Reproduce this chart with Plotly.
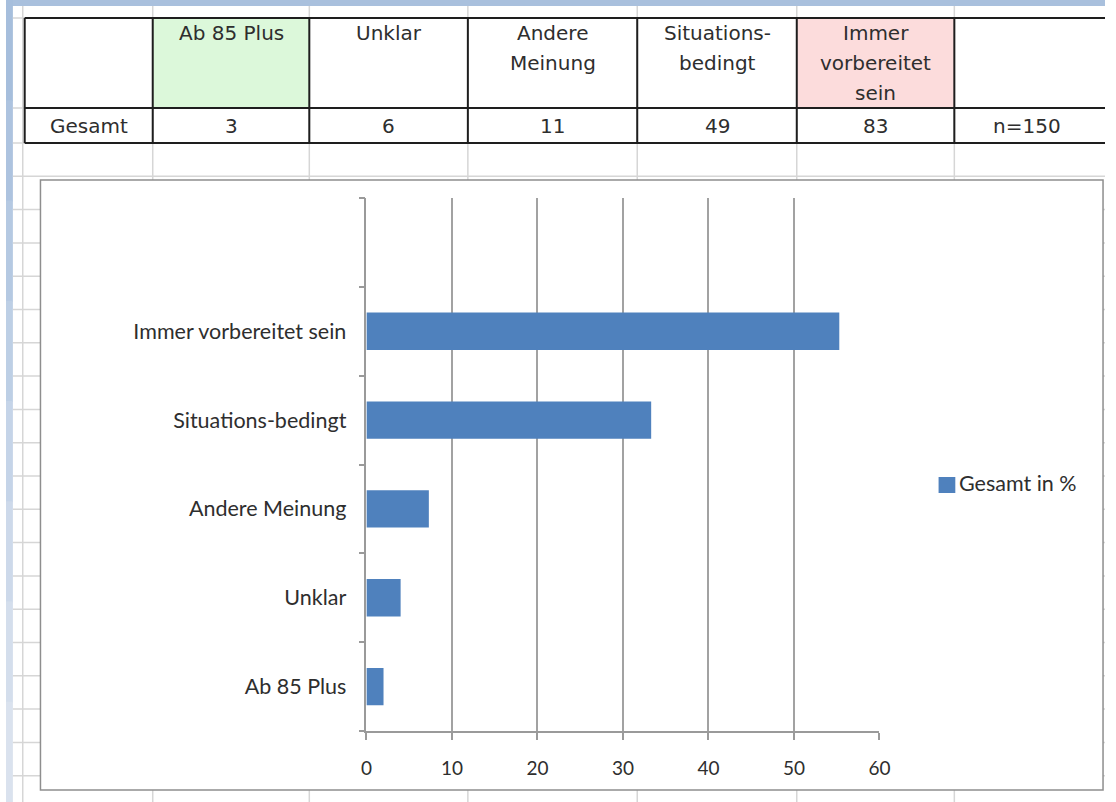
import plotly.graph_objects as go

W, H = 1116, 802

# ---- data ----
categories = ["Ab 85 Plus", "Unklar", "Andere Meinung", "Situations-bedingt", "Immer vorbereitet sein"]
header_labels = ["Ab 85 Plus", "Unklar", "Andere<br>Meinung", "Situations-<br>bedingt", "Immer<br>vorbereitet<br>sein"]
row_label = "Gesamt"
counts = [3, 6, 11, 49, 83]
total_label = "n=150"
percent = [2.0, 4.0, 7.3, 33.3, 55.3]
series_name = "Gesamt in %"
x_ticks = [0, 10, 20, 30, 40, 50, 60]

# ---- layout constants (pixels) ----
col_edges = [19, 149, 308, 469, 641, 803, 963, 1116]
tbl_top, tbl_mid, tbl_bot = 18, 108, 143
frame = (35, 180, 1114, 790)
plot_x = (366, 887)
plot_y = (198, 731)

TXT = "#2e2e2e"
BAR = "#4f81bd"
GRID_SHEET = "#d6d6d6"


def X(px):
    return px / W


def Y(py):
    return 1 - py / H


shapes = []
annotations = []


def rect(x0, y0, x1, y1, fill=None, line=None, lw=0):
    shapes.append(dict(type="rect", xref="paper", yref="paper",
                       x0=X(x0), y0=Y(y1), x1=X(x1), y1=Y(y0),
                       fillcolor=fill or "rgba(0,0,0,0)",
                       line=dict(color=line or "rgba(0,0,0,0)", width=lw),
                       layer="below"))


def line(x0, y0, x1, y1, color, width):
    shapes.append(dict(type="line", xref="paper", yref="paper",
                       x0=X(x0), y0=Y(y0), x1=X(x1), y1=Y(y1),
                       line=dict(color=color, width=width), layer="below"))


# window edge (blue chrome)
rect(0, 0, W, 6, fill="#a9c0dd")
strip_cols = ["#a6bedc", "#adc3df", "#b5c9e2", "#bdcfe5", "#c5d4e8", "#cdd9ea", "#d4deec", "#dae2ee"]
seg = H / len(strip_cols)
for i, c in enumerate(strip_cols):
    rect(0, i * seg, 7, (i + 1) * seg + 1, fill=c)

# spreadsheet gridlines
for xv in [17] + col_edges[1:-1]:
    line(xv, 6, xv, H, GRID_SHEET, 1.5)
row_lines = [tbl_top, tbl_mid, tbl_bot] + [tbl_bot + 33.3 * k for k in range(1, 20)]
for yv in row_lines:
    line(7, yv, W, yv, GRID_SHEET, 1.5)

# highlighted header cells
rect(col_edges[1], tbl_top, col_edges[2], tbl_mid, fill="#dcf8da")
rect(col_edges[5], tbl_top, col_edges[6], tbl_mid, fill="#fcdcdc")

# table borders
for yv in (tbl_top, tbl_mid, tbl_bot):
    line(col_edges[0], yv, W, yv, "#1e1e1e", 2)
for xv in col_edges[:-1]:
    line(xv, tbl_top, xv, tbl_bot, "#1e1e1e", 2)

# table text
tfont = dict(family="DejaVu Sans", size=20, color=TXT)
for i, lab in enumerate(header_labels):
    cx = (col_edges[i + 1] + col_edges[i + 2]) / 2
    for j, part in enumerate(lab.split("<br>")):
        annotations.append(dict(x=X(cx), y=Y(33 + 30 * j), xref="paper", yref="paper",
                                text=part, showarrow=False, font=tfont,
                                xanchor="center", yanchor="middle"))
row_y = (tbl_mid + tbl_bot) / 2
annotations.append(dict(x=X((col_edges[0] + col_edges[1]) / 2), y=Y(row_y), xref="paper", yref="paper",
                        text=row_label, showarrow=False, font=tfont, xanchor="center", yanchor="middle"))
for i, v in enumerate(counts):
    cx = (col_edges[i + 1] + col_edges[i + 2]) / 2
    annotations.append(dict(x=X(cx), y=Y(row_y), xref="paper", yref="paper",
                            text=str(v), showarrow=False, font=tfont, xanchor="center", yanchor="middle"))
annotations.append(dict(x=X((col_edges[6] + col_edges[7]) / 2 - 3), y=Y(row_y), xref="paper", yref="paper",
                        text=total_label, showarrow=False, font=tfont, xanchor="center", yanchor="middle"))

# chart frame
rect(*frame, fill="white", line="#8e8e8e", lw=1.5)

# legend
rect(947, 477, 964, 493, fill=BAR)
annotations.append(dict(x=X(966), y=Y(483), xref="paper", yref="paper", text=series_name,
                        showarrow=False, xanchor="left", yanchor="middle",
                        font=dict(family="Lato", size=21.5, color=TXT)))

# bar chart (an empty slot on top mirrors the blank last table column)
y_cats = categories + [" "]
x_vals = percent + [None]

fig = go.Figure(go.Bar(y=y_cats, x=x_vals, orientation="h", marker_color=BAR,
                       marker_line_width=0, name=series_name, showlegend=False,
                       hoverinfo="x+y"))

AX = "#9a9a9a"
fig.update_layout(
    width=W, height=H,
    autosize=False,
    margin=dict(l=0, r=0, t=0, b=0),
    paper_bgcolor="white",
    plot_bgcolor="rgba(0,0,0,0)",
    bargap=0.58,
    shapes=shapes,
    annotations=annotations,
    showlegend=False,
    xaxis=dict(domain=[X(plot_x[0]), X(plot_x[1])], range=[0, 60], tickvals=x_ticks,
               showgrid=True, gridcolor="#a2a2a2", gridwidth=1.6,
               showline=True, linecolor=AX, linewidth=1.5, zeroline=False,
               ticks="outside", ticklen=7, tickwidth=1.5, tickcolor=AX,
               ticklabelstandoff=12,
               tickfont=dict(family="Lato", size=19, color=TXT)),
    yaxis=dict(domain=[Y(plot_y[1]), Y(plot_y[0])], type="category",
               categoryorder="array", categoryarray=y_cats,
               tickson="boundaries", ticks="outside", ticklen=6, tickwidth=1.5, tickcolor=AX,
               showline=True, linecolor=AX, linewidth=1.5, showgrid=False, zeroline=False,
               ticklabelstandoff=14,
               tickfont=dict(family="Lato", size=21.5, color=TXT)),
)

# page without body margin so the figure sits flush in the window
fig.write_html("out.html", config={"responsive": False},
               post_script="document.body.style.margin='0';document.body.style.overflow='hidden';")
